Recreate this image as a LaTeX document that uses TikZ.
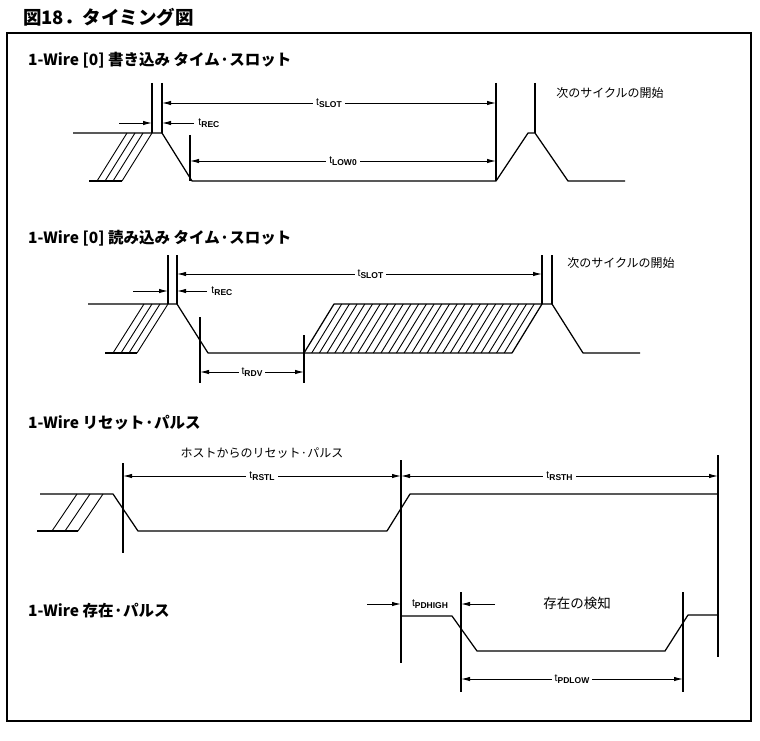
\documentclass[tikz,border=0pt]{standalone}
\usepackage{fontspec}
\setmainfont{Liberation Sans}
\newfontfamily\jpfont{Noto Sans CJK JP}
\usetikzlibrary{arrows.meta}
\newcommand{\tname}[1]{{\fontsize{10.5}{10}\selectfont t}\raisebox{-1.5pt}{\fontsize{8.5}{8}\selectfont\bfseries #1}}

\begin{document}
\begin{tikzpicture}[x=1pt,y=-1pt,
	wave/.style={line width=1.25pt,line join=round},
	vline/.style={line width=1.1pt},
	hatch/.style={line width=0.9pt},
	dimline/.style={line width=0.9pt,{Latex[length=9pt,width=4.4pt]}-{Latex[length=9pt,width=4.4pt]}},
	dimin/.style={line width=0.9pt,-{Latex[length=9pt,width=4.4pt]}},
	lbl/.style={fill=white,inner sep=3pt},
	head/.style={anchor=west,inner sep=0pt,font=\jpfont\bfseries\fontsize{15.5}{16}\selectfont},
	note/.style={inner sep=0pt,font=\jpfont\fontsize{12}{14}\selectfont}]
	\useasboundingbox (0,0) rectangle (760,741);
	\node[head,font=\jpfont\bfseries\fontsize{18.5}{20}\selectfont] (title) at (23,17) {図18．タイミング図};
	\draw[line width=1.3pt] (7,33) rectangle (751,721);
	
	% write 0 slot
	\node[head] (h1) at (28,60) {1-Wire [0] 書き込み タイム·スロット};
	\draw[wave] (73,133) -- (162,133) -- (192,181) -- (496,181) -- (528,133) -- (535,133) -- (568,181) -- (625,181);
	\draw[wave] (89,181) -- (122,181);
	\foreach \x in {97,105,113,122} \draw[hatch] (\x,181) -- ++(30,-48);
	\foreach \x/\a/\b in {152/83/133,162/83/133,190/135/181,496/83/181,535/83/133} \draw[vline] (\x,\a) -- (\x,\b);
	\coordinate (s1a) at (162,103); \coordinate (s1b) at (496,103);
	\coordinate (l1a) at (190,161); \coordinate (l1b) at (496,161);
	\coordinate (r1a) at (119,123); \coordinate (r1b) at (152,123);
	\coordinate (r1c) at (194,123); \coordinate (r1d) at (162,123);
	\draw[dimline] (s1a) -- (s1b) node[midway,lbl] (slot1) {\tname{SLOT}};
	\draw[dimline] (l1a) -- (l1b) node[midway,lbl] (low1) {\tname{LOW0}};
	\draw[dimin] (r1a) -- (r1b);
	\draw[dimin] (r1c) -- (r1d) node[pos=0,anchor=west,inner sep=4pt] (rec1) {\tname{REC}};
	\node[note] (next1) at (610,93) {次のサイクルの開始};
	
	% read 0 slot
	\node[head] (h2) at (28,238) {1-Wire [0] 読み込み タイム·スロット};
	\draw[wave] (88,304) -- (177,304) -- (208,353) -- (512,353) -- (542,304) -- (552,304) -- (583,353) -- (640,353);
	\draw[wave] (304,353) -- (334,304) -- (542,304);
	\draw[wave] (105,353) -- (137,353);
	\foreach \x in {113,121,129,137} \draw[hatch] (\x,353) -- ++(31,-49);
	\foreach \k in {1,...,26} \draw[hatch] (304+\k*7.7,353) -- ++(30,-49);
	\foreach \x/\a/\b in {168/255/304,177/255/304,200/317/383,304/335/383,542/255/304,552/255/304} \draw[vline] (\x,\a) -- (\x,\b);
	\coordinate (s2a) at (177,274); \coordinate (s2b) at (542,274);
	\coordinate (r2a) at (133,291); \coordinate (r2b) at (168,291);
	\coordinate (r2c) at (207,291); \coordinate (r2d) at (177,291);
	\coordinate (d2a) at (200,372); \coordinate (d2b) at (304,372);
	\draw[dimline] (s2a) -- (s2b) node[pos=.53,lbl] (slot2) {\tname{SLOT}};
	\draw[dimin] (r2a) -- (r2b);
	\draw[dimin] (r2c) -- (r2d) node[pos=0,anchor=west,inner sep=4pt] (rec2) {\tname{REC}};
	\draw[dimline] (d2a) -- (d2b) node[midway,lbl] (rdv2) {\tname{RDV}};
	\node[note] (next2) at (621,263) {次のサイクルの開始};
	
	% reset pulse
	\node[head] (h3) at (28,423) {1-Wire リセット·パルス};
	\draw[wave] (40,494) -- (113,494) -- (138,531) -- (387,531) -- (410,494) -- (718,494);
	\draw[wave] (37,531) -- (78,531);
	\foreach \x in {52,65,78} \draw[hatch] (\x,531) -- ++(25,-37);
	\foreach \x/\a/\b in {123/463/553,401/460/663,718/455/657} \draw[vline] (\x,\a) -- (\x,\b);
	\node[note] (host) at (262,453) {ホストからのリセット·パルス};
	\coordinate (t3a) at (123,476); \coordinate (t3b) at (401,476); \coordinate (t3c) at (718,476);
	\draw[dimline] (t3a) -- (t3b) node[midway,lbl] (rstl) {\tname{RSTL}};
	\draw[dimline] (t3b) -- (t3c) node[midway,lbl] (rsth) {\tname{RSTH}};
	
	% presence pulse
	\node[head] (h4) at (28,611) {1-Wire 存在·パルス};
	\draw[wave] (401,616) -- (452,616) -- (477,651) -- (665,651) -- (688,615) -- (718,615);
	\foreach \x in {461,683} \draw[vline] (\x,592) -- (\x,692);
	\coordinate (p4a) at (367,604); \coordinate (p4b) at (401,604);
	\coordinate (p4c) at (495,604); \coordinate (p4d) at (461,604);
	\coordinate (p4e) at (461,679); \coordinate (p4f) at (683,679);
	\draw[dimin] (p4a) -- (p4b);
	\draw[dimin] (p4c) -- (p4d);
	\node[inner sep=0pt] (pdhigh) at (430,604) {\tname{PDHIGH}};
	\node[note,font=\jpfont\fontsize{13.5}{15}\selectfont] (detect) at (577,603) {存在の検知};
	\draw[dimline] (p4e) -- (p4f) node[midway,lbl] (pdlow) {\tname{PDLOW}};
\end{tikzpicture}
\end{document}
